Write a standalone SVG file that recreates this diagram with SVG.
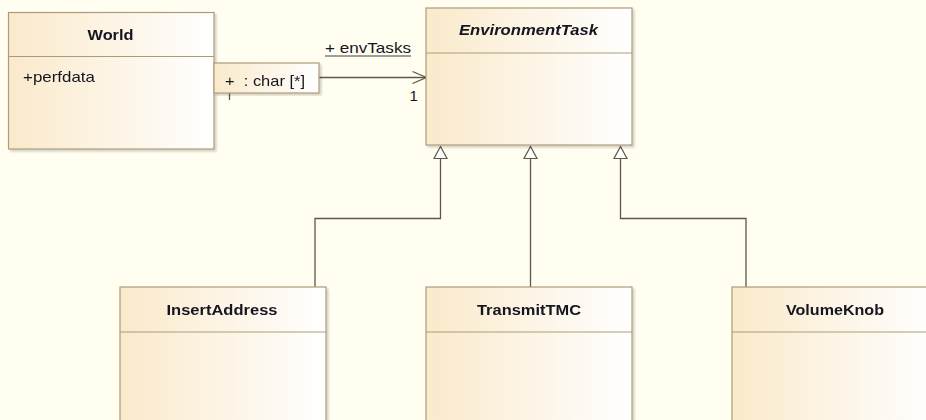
<svg xmlns="http://www.w3.org/2000/svg" width="926" height="420" viewBox="0 0 926 420">
<defs>
<linearGradient id="fill" x1="0" y1="0" x2="1" y2="0">
<stop offset="0" stop-color="#FAEACB"/>
<stop offset="1" stop-color="#FFFFFF"/>
</linearGradient>
<filter id="sh" x="-5%" y="-5%" width="115%" height="115%">
<feGaussianBlur in="SourceAlpha" stdDeviation="1"/>
<feOffset dx="2" dy="2" result="b"/>
<feComponentTransfer><feFuncA type="linear" slope="0.18"/></feComponentTransfer>
<feMerge><feMergeNode/><feMergeNode in="SourceGraphic"/></feMerge>
</filter>
</defs>
<style>
.box{fill:url(#fill);stroke:#AD9B78;stroke-width:1.2}
.div{stroke:#AD9B78;stroke-width:1.2}
.title{font-family:"Liberation Sans",Arial,sans-serif;font-size:15px;font-weight:bold;fill:#151520;text-anchor:middle}
.txt{font-family:"Liberation Sans",Arial,sans-serif;font-size:15px;fill:#151520}
.con{fill:none;stroke:#5F5848;stroke-width:1.3}
.gen{fill:#FFFFFF;stroke:#5F5848;stroke-width:1.2}
</style>
<rect width="926" height="420" fill="#FFFEF0"/>
<g id="connectors">
<path class="con" d="M319,77.5 L426.5,77.5"/>
<path class="con" d="M412.5,71.5 L426.5,77.5 L412.5,83.5"/>
<path class="con" d="M229.5,93 L229.5,100"/>
<text class="txt" x="325" y="53" textLength="86" lengthAdjust="spacingAndGlyphs" fill="#303030">+ envTasks</text>
<path d="M325,56 L411,56" stroke="#404040" stroke-width="1.2"/>
<text class="txt" x="409.5" y="101" fill="#2B2F5A">1</text>
<path class="con" d="M315,288 L315,218.5 L440.5,218.5 L440.5,159"/>
<path class="con" d="M530.5,288 L530.5,159"/>
<path class="con" d="M746,288 L746,218.5 L620.5,218.5 L620.5,159"/>
<path class="gen" d="M440.5,146.5 L447,158.5 L434,158.5 Z"/>
<path class="gen" d="M530.5,146.5 L537,158.5 L524,158.5 Z"/>
<path class="gen" d="M620.5,146.5 L627,158.5 L614,158.5 Z"/>
</g>
<g id="World" filter="url(#sh)">
<rect class="box" x="8.5" y="12.5" width="205.5" height="136.5"/>
<line class="div" x1="8.5" y1="56.5" x2="214" y2="56.5"/>
<text class="title" x="110.5" y="39.5" textLength="46" lengthAdjust="spacingAndGlyphs">World</text>
<text class="txt" x="23" y="81.5" textLength="72" lengthAdjust="spacingAndGlyphs">+perfdata</text>
</g>
<g id="qualifier" filter="url(#sh)">
<rect class="box" x="214" y="63" width="105" height="30"/>
<text class="txt" x="225" y="86" textLength="80" lengthAdjust="spacingAndGlyphs" xml:space="preserve">+  : char [*]</text>
</g>
<g id="EnvironmentTask" filter="url(#sh)">
<rect class="box" x="426" y="8" width="206" height="137"/>
<line class="div" x1="426" y1="53" x2="632" y2="53"/>
<text class="title" x="528.5" y="34.5" font-style="italic" textLength="139" lengthAdjust="spacingAndGlyphs">EnvironmentTask</text>
</g>
<g id="InsertAddress" filter="url(#sh)">
<rect class="box" x="120" y="287" width="206" height="150"/>
<line class="div" x1="120" y1="332" x2="326" y2="332"/>
<text class="title" x="222" y="314.5" textLength="111" lengthAdjust="spacingAndGlyphs">InsertAddress</text>
</g>
<g id="TransmitTMC" filter="url(#sh)">
<rect class="box" x="426" y="287" width="206" height="150"/>
<line class="div" x1="426" y1="332" x2="632" y2="332"/>
<text class="title" x="529" y="314.5" textLength="104" lengthAdjust="spacingAndGlyphs">TransmitTMC</text>
</g>
<g id="VolumeKnob" filter="url(#sh)">
<rect class="box" x="732" y="287" width="206" height="150"/>
<line class="div" x1="732" y1="332" x2="938" y2="332"/>
<text class="title" x="835" y="314.5" textLength="98" lengthAdjust="spacingAndGlyphs">VolumeKnob</text>
</g>
</svg>
